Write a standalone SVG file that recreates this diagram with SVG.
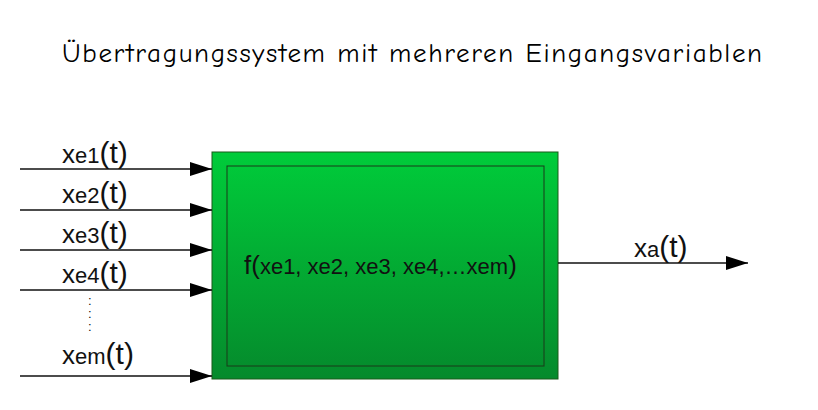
<svg xmlns="http://www.w3.org/2000/svg" width="818" height="410" viewBox="0 0 818 410">
<style>
text{font-family:"Liberation Sans",Arial,sans-serif;fill:#111}
.b{font-size:26px}.s{font-size:22px}.t{font-size:30px}
.ln{stroke:#111;stroke-width:1.3;fill:none}
</style>
<defs>
<linearGradient id="g" x1="0" y1="0" x2="0" y2="1"><stop offset="0" stop-color="#00cc3a"/><stop offset="1" stop-color="#058a2c"/></linearGradient>
<marker id="a" markerWidth="22" markerHeight="14" refX="22" refY="7" orient="auto" markerUnits="userSpaceOnUse"><path d="M0,0 L22,7 L0,14 Z" fill="#000"/></marker>
</defs>
<rect width="818" height="410" fill="#fff"/>
<text x="412" y="62" text-anchor="middle" textLength="700" style="font-size:27px;font-family:'Comic Neue','DejaVu Sans',sans-serif;font-weight:400;fill:#000">Übertragungssystem mit mehreren Eingangsvariablen</text>
<g id="system">
<rect x="212" y="152" width="346" height="227" fill="url(#g)" stroke="#1a5a1a" stroke-width="1"/>
<rect x="227" y="166" width="317" height="200" fill="none" stroke="#1a3a1a" stroke-width="1"/>
<text x="244" y="274"><tspan class="b">f(</tspan><tspan style="font-size:22px">xe1, xe2, xe3, xe4,…xem</tspan><tspan class="b">)</tspan></text>
</g>
<g id="connectors">
<line class="ln" x1="20" y1="169" x2="212" y2="169" marker-end="url(#a)"/>
<line class="ln" x1="20" y1="210" x2="212" y2="210" marker-end="url(#a)"/>
<line class="ln" x1="20" y1="250" x2="212" y2="250" marker-end="url(#a)"/>
<line class="ln" x1="20" y1="290" x2="212" y2="290" marker-end="url(#a)"/>
<line class="ln" x1="20" y1="376" x2="212" y2="376" marker-end="url(#a)"/>
<line class="ln" x1="558" y1="263" x2="748" y2="263" marker-end="url(#a)"/>
</g>
<g id="labels">
<text x="62" y="163"><tspan class="b">x</tspan><tspan class="s">e1</tspan><tspan class="t">(t)</tspan></text>
<text x="62" y="203"><tspan class="b">x</tspan><tspan class="s">e2</tspan><tspan class="t">(t)</tspan></text>
<text x="62" y="243"><tspan class="b">x</tspan><tspan class="s">e3</tspan><tspan class="t">(t)</tspan></text>
<text x="62" y="283"><tspan class="b">x</tspan><tspan class="s">e4</tspan><tspan class="t">(t)</tspan></text>
<text style="font-size:13px"><tspan x="88" y="305">:</tspan><tspan x="88" y="318">:</tspan><tspan x="88" y="331">:</tspan></text>
<text x="62" y="364"><tspan class="b">x</tspan><tspan class="s">em</tspan><tspan class="t">(t)</tspan></text>
<text x="634" y="257"><tspan class="b">x</tspan><tspan class="s">a</tspan><tspan class="t">(t)</tspan></text>
</g>
</svg>
